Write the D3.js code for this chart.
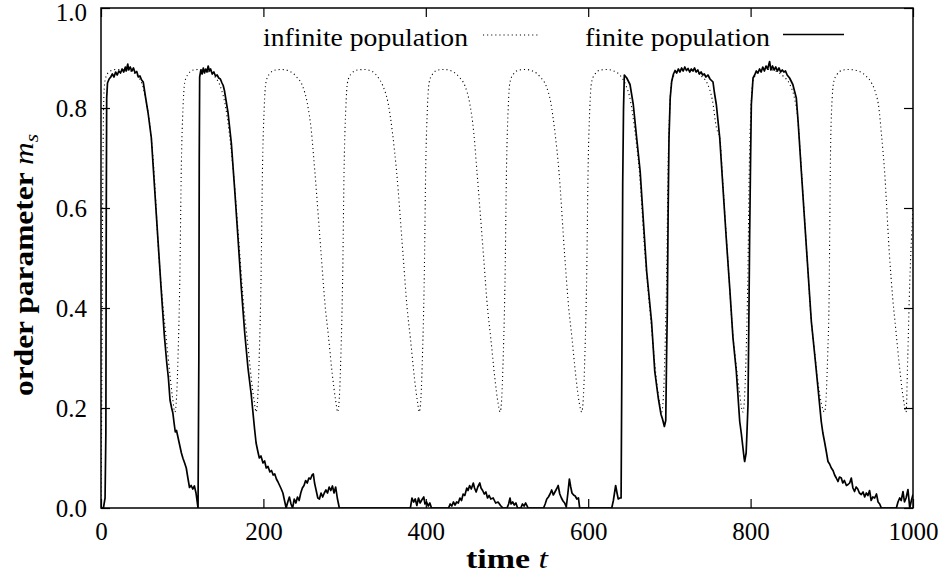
<!DOCTYPE html>
<html>
<head>
<meta charset="utf-8">
<script src="https://cdn.jsdelivr.net/npm/d3@7"></script>
<style>
body { margin: 0; background: #fff; }
</style>
</head>
<body>
<svg id="chart" width="942" height="575"></svg>
<script>
var svg = d3.select('#chart');
var serif = '"Liberation Serif", "DejaVu Serif", serif';

// tick values
var xTicks = [0, 200, 400, 600, 800, 1000];
var yTicks = [0, 0.2, 0.4, 0.6, 0.8, 1.0];

// infinite population, [t, m_s]
var infinitePop = [
  [0,0],[1,0.25],[2,0.6],[3,0.78],[4,0.84],[6,0.862],[10,0.872],[18,0.877],[28,0.877],[38,0.873],
  [45,0.864],[51,0.846],[56,0.81],[61,0.754],[65,0.68],[71,0.51],[76,0.41],[80,0.345],[85,0.265],[88,0.222],[91,0.192],
  [93,0.22],[95,0.31],[97,0.45],[99,0.69],[101,0.80],[103,0.85],[107,0.867],[114,0.876],[122,0.877],[132,0.873],
  [140,0.863],[147,0.843],[153,0.806],[158,0.75],[163,0.673],[171,0.506],[176,0.40],[180,0.34],[185,0.26],[189,0.21],[191,0.192],
  [193,0.22],[195,0.31],[197,0.45],[199,0.69],[201,0.80],[203,0.85],[207,0.867],[215,0.876],[223,0.877],[233,0.873],
  [241,0.862],[248,0.845],[254,0.81],[259,0.755],[263,0.68],[271,0.51],[276,0.405],[280,0.345],[285,0.265],[289,0.215],[291.5,0.192],
  [293.5,0.22],[295.5,0.31],[297.5,0.45],[299.5,0.69],[301.5,0.80],[303.5,0.85],[307.5,0.867],[316,0.876],[324,0.877],[334,0.873],
  [341,0.862],[347,0.845],[354,0.806],[359,0.75],[364,0.673],[372,0.506],[377,0.40],[381,0.34],[386,0.26],[390,0.21],[392,0.192],
  [394,0.22],[396,0.31],[398,0.45],[400,0.69],[402,0.80],[404,0.85],[408,0.867],[415,0.876],[423,0.877],[433,0.873],
  [441,0.862],[448,0.845],[454,0.81],[459,0.752],[463,0.673],[471,0.506],[476,0.40],[480,0.34],[485,0.26],[489,0.21],[491.5,0.192],
  [493.5,0.22],[495.5,0.31],[497.5,0.45],[499.5,0.69],[501.5,0.80],[503.5,0.85],[507.5,0.867],[515,0.876],[523,0.877],[533,0.873],
  [541,0.862],[548,0.845],[554,0.81],[559,0.752],[564,0.673],[571,0.506],[576,0.40],[580,0.34],[585,0.26],[589,0.21],[592,0.192],
  [594,0.22],[596,0.31],[598,0.45],[600,0.69],[602,0.80],[604,0.85],[608,0.867],[615,0.876],[623,0.877],[633,0.873],
  [640,0.864],[646,0.847],[652,0.815],[657,0.76],[663,0.673],[670,0.506],[674,0.43],[678,0.36],[682.5,0.28],[686.5,0.225],[690.5,0.192],
  [692.5,0.22],[694.5,0.31],[696.5,0.45],[698.5,0.69],[700.5,0.80],[702.5,0.85],[706.5,0.867],[714,0.876],[722,0.877],[732,0.873],
  [740,0.863],[747,0.848],[753,0.815],[758,0.76],[762,0.74],[766,0.645],[770,0.545],[774,0.445],[778,0.35],[782,0.29],[786,0.235],[790.5,0.192],
  [792.5,0.22],[794.5,0.31],[796.5,0.45],[798.5,0.69],[800.5,0.80],[802.5,0.85],[806.5,0.867],[814,0.876],[822,0.877],[832,0.873],
  [840,0.864],[848,0.848],[854,0.82],[858,0.78],[862,0.69],[866,0.59],[870,0.49],[874,0.39],[879,0.31],[883,0.25],[887,0.21],[891,0.192],
  [893,0.22],[895,0.31],[896.5,0.40],[898.5,0.72],[900.5,0.82],[902.5,0.853],[906,0.866],[914,0.876],[922,0.877],[934,0.873],
  [942,0.864],[949,0.85],[954,0.83],[958,0.80],[961,0.75],[965,0.673],[971,0.506],[975,0.42],[978,0.37],[984,0.273],[988,0.22],[991.5,0.192],
  [993.5,0.30],[996,0.45],[1000,0.6]
];

// finite population, [t, m_s]
var finitePop = [
  [0,0],[3,0],[5,0.02],[6,0.15],[6.5,0.6],[7,0.82],[8,0.85],[10,0.858],[12,0.862],[14,0.868],[16,0.862],[18,0.872],
  [20,0.866],[22,0.874],[24,0.87],[26,0.878],[28,0.872],[30,0.882],[31,0.874],[33,0.888],[34,0.876],[36,0.882],[38,0.874],
  [40,0.88],[42,0.87],[44,0.873],[46,0.862],[48,0.864],[50,0.856],[52,0.852],[55,0.82],[58,0.79],[62,0.74],[66,0.64],
  [70,0.54],[74,0.44],[78,0.345],[81,0.29],[83,0.26],[85,0.216],[87,0.2],[88.5,0.19],[90,0.17],[91.5,0.152],[93,0.155],
  [95,0.14],[97,0.125],[99,0.11],[101,0.099],[103,0.09],[105,0.08],[107,0.06],[109,0.041],[111,0.045],[113,0.038],
  [115,0.044],[117,0.03],[119.5,0],
  [120.5,0.3],[121,0.7],[121.5,0.862],[123,0.876],[124.5,0.868],[126,0.88],[127.5,0.87],[129,0.878],[130.5,0.872],
  [132,0.884],[133.5,0.874],[135,0.878],[137,0.868],[139,0.872],[141,0.864],[143,0.866],[145,0.86],[147,0.858],[149,0.85],
  [150.5,0.845],[152,0.835],[154,0.815],[156.5,0.79],[160.5,0.73],[164.5,0.64],[168.7,0.54],[172.8,0.44],[177,0.35],
  [181,0.28],[185,0.227],[189,0.16],[191,0.13],[193.3,0.112],[195,0.1],[197,0.104],[199.5,0.09],[201.5,0.094],[203.5,0.08],
  [205.7,0.083],[208,0.072],[210,0.075],[212,0.066],[214,0.068],[216,0.058],[218,0.052],[220,0.045],[222,0.038],[224,0.03],
  [226,0.015],[228,0],[230,0.012],[232,0.022],[234,0.008],[236,0],[238,0.018],[240,0.01],[242,0.022],[244,0.015],[246,0.03],
  [248,0.04],[250,0.045],[252,0.055],[254,0.05],[256,0.06],[258,0.058],[260,0.066],[261.5,0.068],[263,0.05],[265,0.035],
  [267,0.02],[269,0.018],[271,0.03],[273,0.022],[275,0.03],[277,0.036],[279,0.03],[281,0.042],[283,0.035],[285,0.044],
  [287,0.03],[289,0.042],[291,0.02],[293.5,0],
  [381,0],[383,0.02],[385,0.012],[387,0.018],[389,0.005],[391,0.02],[393,0.01],[395,0.016],[397.5,0.022],[399,0.008],
  [401,0.012],[403,0.004],[405,0.01],[407,0],
  [428,0],[430,0.008],[432,0.004],[434,0.012],[436,0.006],[438,0.012],[440,0.01],[442,0.02],[444,0.015],[446,0.028],
  [448,0.025],[450.5,0.04],[452,0.035],[454,0.045],[456,0.038],[458.5,0.05],[460,0.04],[462,0.032],[464,0.042],[466.5,0.05],
  [468,0.04],[470,0.035],[472,0.028],[474,0.032],[476,0.02],[478,0.025],[480,0.018],[483,0.02],[486,0.01],[489,0.012],
  [492,0.005],[495,0],
  [500,0],[502,0.008],[503.7,0.02],[505,0.008],[507,0.012],[509,0.006],[511,0.01],[513,0],[517,0],[519,0.008],[521,0.004],
  [523,0.01],[526,0],
  [545,0],[547,0.008],[549,0.018],[551,0.022],[553,0.028],[555,0.036],[557,0.026],[559,0.032],[561,0.038],[563,0.045],
  [565,0.028],[567,0.02],[569,0.014],[571,0.01],[573,0.002],[575,0.03],[576.8,0.058],[578.5,0.042],[580,0.03],[582,0.026],
  [584,0.024],[586,0.018],[588,0.02],[589.5,0],
  [629,0],[631,0.015],[633.8,0.045],[635.5,0.03],[637,0.018],[639,0.02],[640.5,0.02],[641.5,0.3],[642.5,0.65],[643.5,0.8],
  [644.5,0.866],[647.5,0.86],[651.5,0.847],[655.5,0.807],[659.7,0.74],[664,0.673],[668,0.573],[672,0.473],[678,0.373],
  [682,0.273],[686.3,0.22],[689.7,0.187],[691.5,0.178],[693.8,0.163],[695.5,0.175],[696.5,0.3],[697.4,0.393],[698.5,0.6],
  [699.5,0.74],[701,0.82],[702.8,0.853],[705,0.868],[707,0.875],[709,0.87],[711,0.878],[713,0.872],[715,0.88],[717,0.874],
  [719,0.882],[721,0.875],[723,0.879],[725,0.872],[727,0.878],[729,0.874],[731,0.88],[733,0.872],[735,0.876],[737,0.868],
  [739,0.872],[741,0.866],[743,0.868],[745,0.862],[747.5,0.866],[750,0.858],[753.7,0.852],[755.5,0.83],[757.8,0.807],
  [762,0.74],[766,0.64],[770,0.54],[774.3,0.44],[778.3,0.34],[782.4,0.273],[786.6,0.173],[788.5,0.15],[790.6,0.12],
  [792,0.1],[792.7,0.093],[794.5,0.11],[795.5,0.15],[796.8,0.207],[798,0.4],[798.8,0.54],[800,0.7],[800.9,0.807],[803,0.86],
  [805,0.866],[807,0.874],[809,0.87],[811,0.878],[813,0.872],[815,0.882],[817,0.874],[819,0.884],[821,0.878],[823.4,0.893],
  [825,0.876],[827,0.884],[829,0.876],[831,0.882],[833,0.874],[835,0.88],[837,0.872],[839,0.876],[841,0.872],[843,0.874],
  [845,0.866],[848,0.86],[852,0.847],[856.3,0.82],[858.5,0.773],[862.5,0.673],[866.6,0.573],[870.7,0.473],[874.8,0.373],
  [879,0.306],[883,0.24],[887,0.173],[889,0.15],[891,0.133],[893,0.115],[895.3,0.093],[897.3,0.088],[899.4,0.08],[901.5,0.075],
  [903.5,0.066],[905.5,0.06],[907.6,0.053],[909.5,0.062],[911.7,0.06],[913.5,0.05],[915.5,0.055],[918,0.045],[920,0.047],
  [922,0.05],[924,0.06],[926,0.04],[928,0.033],[930,0.042],[932,0.038],[934,0.03],[936.3,0.027],[938.5,0.032],[940.5,0.022],
  [942.5,0.03],[944.5,0.025],[946.5,0.035],[948.5,0.015],[950.5,0.022],[952.8,0.02],[955,0.028],[957,0.012],[959,0.008],
  [961,0],[979.5,0],[981.5,0.012],[983.6,0.02],[985.5,0.015],[987.7,0.033],[989.5,0.012],[991.5,0.02],[993.8,0.037],
  [996,0],[998,0.015],[1000,0.027]
];

// plot box
var plot = {l: 101, r: 913, t: 8, b: 508};

var x = d3.scaleLinear([0, 1000], [plot.l, plot.r]);
var y = d3.scaleLinear([0, 1], [plot.b, plot.t]);

svg.append('defs').append('clipPath').attr('id', 'clip')
  .append('rect')
    .attr('x', plot.l).attr('y', plot.t)
    .attr('width', plot.r - plot.l).attr('height', plot.b - plot.t);

// axes, ticks pointing inward like gnuplot
function styleAxis(g) {
  g.attr('font-family', serif).attr('font-size', 25);
  g.select('.domain').remove();
  g.selectAll('.tick line').attr('stroke', '#000').attr('stroke-width', 1.2);
  g.selectAll('.tick text').attr('fill', '#000');
}

svg.append('g')
  .attr('transform', 'translate(0,' + plot.b + ')')
  .call(d3.axisBottom(x).tickValues(xTicks).tickSize(-9).tickPadding(14).tickFormat(d3.format('d')))
  .call(styleAxis);

svg.append('g')
  .attr('transform', 'translate(0,' + plot.t + ')')
  .call(d3.axisTop(x).tickValues(xTicks).tickSize(-9).tickFormat(''))
  .call(styleAxis);

var yAxisG = svg.append('g')
  .attr('transform', 'translate(' + plot.l + ',0)')
  .call(d3.axisLeft(y).tickValues(yTicks).tickSize(-9).tickPadding(14).tickFormat(d3.format('.1f')))
  .call(styleAxis);
// top label sits a little lower, as in the original
yAxisG.selectAll('.tick text').filter(function(d) { return d === 1; }).attr('dy', '0.5em');

svg.append('g')
  .attr('transform', 'translate(' + plot.r + ',0)')
  .call(d3.axisRight(y).tickValues(yTicks).tickSize(-9).tickFormat(''))
  .call(styleAxis);

// curves
var line = d3.line()
  .x(function(d) { return x(d[0]); })
  .y(function(d) { return y(d[1]); });

var linesG = svg.append('g').attr('clip-path', 'url(#clip)');

linesG.append('path')
  .datum(infinitePop)
  .attr('d', line.curve(d3.curveMonotoneX))
  .attr('fill', 'none')
  .attr('stroke', '#000')
  .attr('stroke-width', 1.1)
  .attr('stroke-dasharray', '1.1,3');

linesG.append('path')
  .datum(finitePop)
  .attr('d', line.curve(d3.curveLinear))
  .attr('fill', 'none')
  .attr('stroke', '#000')
  .attr('stroke-width', 1.7)
  .attr('stroke-linejoin', 'round');

// frame
svg.append('rect')
  .attr('x', plot.l).attr('y', plot.t)
  .attr('width', plot.r - plot.l).attr('height', plot.b - plot.t)
  .attr('fill', 'none')
  .attr('stroke', '#000')
  .attr('stroke-width', 1.5);

// legend
var legendG = svg.append('g').attr('font-family', serif).attr('font-size', 26);
legendG.append('text')
  .attr('x', 263).attr('y', 46)
  .attr('textLength', 205).attr('lengthAdjust', 'spacingAndGlyphs')
  .text('infinite population');
legendG.append('line')
  .attr('x1', 483).attr('x2', 539).attr('y1', 35).attr('y2', 35)
  .attr('stroke', '#000').attr('stroke-width', 1.1).attr('stroke-dasharray', '1.1,3');
legendG.append('text')
  .attr('x', 585).attr('y', 46)
  .attr('textLength', 185).attr('lengthAdjust', 'spacingAndGlyphs')
  .text('finite population');
legendG.append('line')
  .attr('x1', 783).attr('x2', 844).attr('y1', 34.5).attr('y2', 34.5)
  .attr('stroke', '#000').attr('stroke-width', 1.7);

// axis titles
var yTitle = svg.append('text')
  .attr('transform', 'translate(33,265) rotate(-90)')
  .attr('text-anchor', 'middle')
  .attr('font-family', serif)
  .attr('font-size', 28)
  .attr('textLength', 262).attr('lengthAdjust', 'spacingAndGlyphs');
yTitle.append('tspan').attr('font-weight', 'bold').text('order parameter ');
yTitle.append('tspan').attr('font-style', 'italic').text('m');
yTitle.append('tspan').attr('font-style', 'italic').attr('font-size', 19).attr('dy', 5).text('s');

var xTitle = svg.append('text')
  .attr('x', (plot.l + plot.r) / 2).attr('y', 568)
  .attr('text-anchor', 'middle')
  .attr('font-family', serif)
  .attr('font-size', 28)
  .attr('textLength', 82).attr('lengthAdjust', 'spacingAndGlyphs');
xTitle.append('tspan').attr('font-weight', 'bold').text('time ');
xTitle.append('tspan').attr('font-style', 'italic').text('t');
</script>
</body>
</html>
